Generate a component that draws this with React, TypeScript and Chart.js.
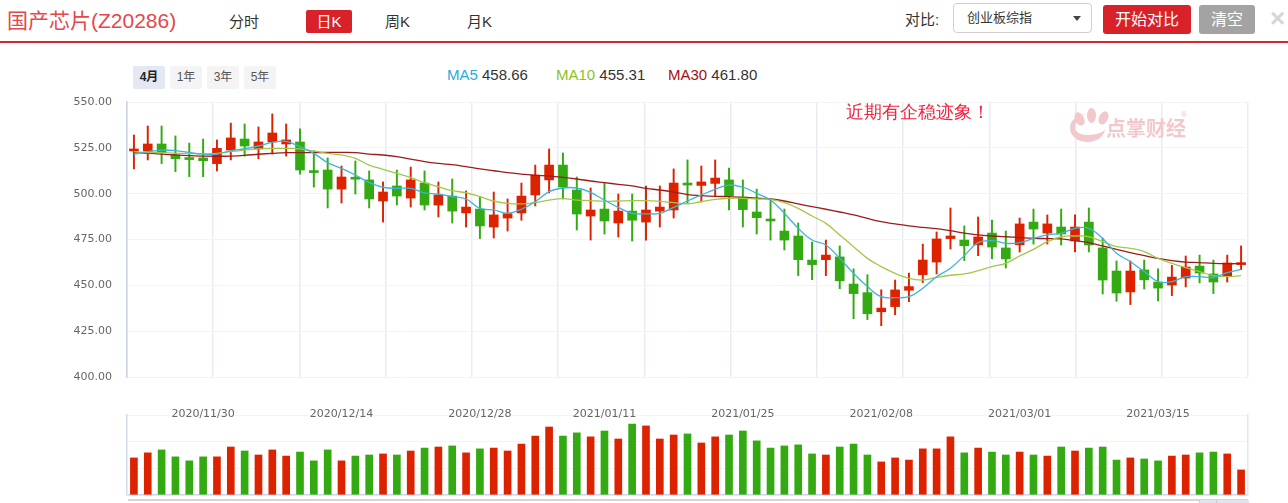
import React, { useEffect, useRef } from 'react';
import { Chart, registerables } from 'chart.js';

Chart.register(...registerables);

const dates = [
  '2020/11/23','2020/11/24','2020/11/25','2020/11/26','2020/11/27','2020/11/30',
  '2020/12/01','2020/12/02','2020/12/03','2020/12/04','2020/12/07','2020/12/08','2020/12/09','2020/12/10','2020/12/11',
  '2020/12/14','2020/12/15','2020/12/16','2020/12/17','2020/12/18','2020/12/21','2020/12/22','2020/12/23','2020/12/24','2020/12/25',
  '2020/12/28','2020/12/29','2020/12/30','2020/12/31',
  '2021/01/04','2021/01/05','2021/01/06','2021/01/07','2021/01/08','2021/01/11','2021/01/12','2021/01/13','2021/01/14','2021/01/15',
  '2021/01/18','2021/01/19','2021/01/20','2021/01/21','2021/01/22','2021/01/25','2021/01/26','2021/01/27','2021/01/28','2021/01/29',
  '2021/02/01','2021/02/02','2021/02/03','2021/02/04','2021/02/05','2021/02/08','2021/02/09','2021/02/10','2021/02/18','2021/02/19',
  '2021/02/22','2021/02/23','2021/02/24','2021/02/25','2021/02/26',
  '2021/03/01','2021/03/02','2021/03/03','2021/03/04','2021/03/05','2021/03/08','2021/03/09','2021/03/10','2021/03/11','2021/03/12',
  '2021/03/15','2021/03/16','2021/03/17','2021/03/18','2021/03/19','2021/03/22','2021/03/23',
];

const axisDates = ['2020/11/30','2020/12/14','2020/12/28','2021/01/11','2021/01/25','2021/02/08','2021/03/01','2021/03/15'];

const openP = [
  523.3,523.3,527.1,521.1,519.5,519.5,516.4,523.8,529.8,524.4,
  528.2,527.1,528.2,512.4,512.9,502.5,508.3,507.5,496.0,504.2,
  497.6,505.8,493.8,498.7,489.5,491.6,481.8,486.7,489.5,499.3,
  507.5,515.6,502.0,487.8,491.6,484.0,490.5,484.5,490.5,491.1,
  505.2,504.5,505.6,507.5,498.2,490.0,485.5,479.6,476.9,463.8,
  464.0,465.5,450.7,446.0,435.6,438.4,447.3,455.8,462.7,475.5,
  474.7,472.1,478.5,470.4,472.1,484.5,478.5,481.8,474.2,484.5,
  470.4,457.8,446.4,458.4,451.8,450.2,454.0,460.5,456.2,455.1,461.3,
];
const highP = [
  532.0,536.9,536.9,531.5,527.6,529.8,529.3,538.5,538.0,536.4,
  543.5,538.0,535.3,523.3,519.5,515.1,517.8,512.4,506.4,512.9,
  514.5,512.4,506.4,508.0,501.5,498.2,500.9,497.1,505.8,515.6,
  524.4,522.2,509.1,503.1,505.8,499.8,499.8,504.2,504.2,513.5,
  518.4,515.1,518.4,514.0,507.5,502.5,496.5,491.6,484.0,473.6,
  474.7,471.5,459.0,455.8,447.6,452.9,456.7,472.5,479.1,492.2,
  482.4,487.3,485.6,479.6,486.7,491.6,488.4,491.6,488.4,492.2,
  475.8,463.3,463.3,463.8,459.0,460.9,466.0,466.5,463.8,466.5,471.5,
];
const lowP = [
  513.5,518.4,516.4,512.0,509.3,509.3,512.4,518.4,520.5,519.0,
  521.6,520.5,510.7,503.6,492.2,494.9,499.8,492.2,484.5,493.8,
  492.7,491.1,487.3,484.0,481.8,475.5,475.8,479.6,485.5,493.3,
  500.4,497.1,480.2,474.7,478.0,476.4,474.2,474.7,481.8,486.7,
  494.7,495.5,498.4,491.1,481.8,478.0,474.7,469.3,455.3,453.1,
  455.3,448.2,431.8,431.3,428.0,434.0,441.1,451.5,456.2,469.8,
  463.5,466.2,464.5,459.5,468.2,472.5,472.5,472.0,468.2,468.2,
  445.3,441.3,439.5,448.0,441.5,444.4,449.1,451.3,445.5,451.8,458.5,
];
const closeP = [
  523.7,527.1,522.4,519.1,518.6,518.0,524.7,530.4,526.0,528.2,
  533.1,529.3,512.9,511.5,502.5,509.1,507.9,497.1,500.9,498.7,
  507.5,493.8,499.3,490.5,492.7,482.4,488.4,489.1,498.7,510.2,
  515.6,503.6,488.9,491.1,485.1,490.5,485.5,491.1,492.7,505.8,
  504.7,506.4,508.5,498.9,491.3,486.9,485.1,474.7,464.0,461.3,
  466.5,452.5,445.5,434.5,437.6,447.5,449.3,463.8,475.3,476.9,
  471.6,476.4,470.9,464.4,483.5,480.7,483.5,478.0,481.8,472.0,
  452.9,445.8,457.8,453.0,448.5,454.5,460.0,456.7,451.8,462.2,462.1,
];

const ma5 = [
  521.5,522.9,523.8,523.5,522.5,521.6,521.6,523.5,524.5,526.0,
  528.0,528.5,525.6,522.0,516.9,513.8,510.2,506.0,503.5,502.9,
  502.9,500.4,499.8,498.4,497.1,492.0,491.1,489.3,491.5,495.6,
  501.1,503.1,503.1,500.7,496.5,492.5,489.3,489.0,489.3,492.5,
  496.0,499.3,502.4,504.7,503.5,500.2,496.5,489.3,481.1,474.7,
  472.0,464.7,456.5,449.3,443.8,443.3,443.8,448.4,454.7,459.3,
  466.2,473.3,474.4,472.9,473.3,475.6,477.5,478.4,481.1,481.1,
  475.6,467.5,462.9,457.5,452.0,452.0,454.7,454.7,454.4,456.9,458.66,
];
const ma10 = [
  522.9,522.4,522.4,522.0,522.0,521.6,522.0,522.9,523.8,524.4,
  524.7,524.7,524.4,523.3,522.0,521.1,519.3,515.6,513.3,511.1,
  508.8,506.0,503.8,501.6,500.5,498.4,496.0,494.7,494.4,495.1,
  496.5,497.3,496.5,496.2,495.8,496.0,496.2,496.2,495.8,495.1,
  494.5,495.6,496.9,497.5,497.5,497.1,496.9,495.1,492.0,487.8,
  483.8,477.5,471.1,464.7,460.2,456.5,453.8,452.9,454.4,455.5,
  456.2,458.0,460.2,462.0,466.0,469.6,473.8,476.5,476.9,476.5,
  473.8,471.1,470.2,468.4,464.7,462.0,459.6,457.5,455.3,454.7,455.31,
];
const ma30 = [
  522.4,522.0,521.6,521.1,520.7,520.5,520.4,520.5,520.9,521.5,
  522.0,522.4,522.4,522.4,522.5,522.5,522.4,521.6,521.1,520.2,
  518.9,517.5,516.5,515.8,514.7,513.5,512.5,511.5,510.7,510.0,
  509.6,508.9,508.0,506.9,506.0,505.1,504.2,502.9,502.0,500.9,
  499.5,498.9,498.5,498.4,498.0,497.6,497.1,496.0,494.4,492.9,
  491.5,490.0,488.4,486.5,484.7,483.5,482.4,481.6,480.9,479.8,
  478.5,477.5,476.9,476.5,476.0,475.6,475.5,475.3,474.4,473.3,
  471.5,469.6,467.8,466.2,464.7,463.5,462.7,462.4,462.0,461.8,461.80,
];

const volume = [
  139,158,169,143,128,143,143,180,165,150,
  169,146,161,128,169,128,146,150,154,150,
  165,176,180,184,158,173,176,165,191,221,
  255,221,233,218,240,210,266,259,210,225,
  229,195,218,225,240,203,176,184,188,154,
  150,180,191,150,124,139,131,173,173,218,
  158,176,161,150,161,150,146,180,165,176,
  180,131,139,135,128,146,150,158,161,154,94,
];

const UP = '#dd2200';
const DOWN = '#33aa11';
const C_MA5 = '#3cb4dd';
const C_MA10 = '#a2c846';
const C_MA30 = '#9c1c1c';

const maSeries = [
  { name: 'MA5', data: ma5, color: C_MA5, label: '#2aa9dc' },
  { name: 'MA10', data: ma10, color: C_MA10, label: '#8cc21d' },
  { name: 'MA30', data: ma30, color: C_MA30, label: '#a50f0f' },
];

const rangeTabs = ['4月', '1年', '3年', '5年'];
const periodTabs = ['分时', '日K', '周K', '月K'];

const AXIS_FONT = { family: "'DejaVu Sans', sans-serif", size: 11 };

const noPad = (s: any) => {
  s.paddingTop = 0;
  s.paddingBottom = 0;
  s.paddingLeft = 0;
  s.paddingRight = 0;
};

export default function App() {
  const mainRef = useRef<HTMLCanvasElement>(null);
  const volRef = useRef<HTMLCanvasElement>(null);

  useEffect(() => {
    const colors = closeP.map((c, i) => (c >= openP[i] ? UP : DOWN));

    const main = new Chart(mainRef.current as HTMLCanvasElement, {
      type: 'bar',
      data: {
        labels: dates,
        datasets: [
          ...maSeries.map((m) => ({
            type: 'line' as const,
            label: m.name,
            data: m.data,
            borderColor: m.color,
            borderWidth: 1.3,
            pointRadius: 0,
            tension: 0.4,
            order: 0,
            xAxisID: 'x',
            yAxisID: 'y',
          })),
          {
            type: 'bar' as const,
            label: 'body',
            data: openP.map((o, i) => [o, closeP[i]]),
            backgroundColor: colors,
            barThickness: 9,
            minBarLength: 2,
            grouped: false,
            order: 1,
            xAxisID: 'x',
            yAxisID: 'y',
          },
          {
            type: 'bar' as const,
            label: 'wick',
            data: lowP.map((l, i) => [l, highP[i]]),
            backgroundColor: colors,
            barThickness: 1.3,
            grouped: false,
            order: 2,
            xAxisID: 'x',
            yAxisID: 'y',
          },
        ],
      } as any,
      options: {
        animation: false,
        responsive: false,
        maintainAspectRatio: false,
        layout: { padding: { left: 0, right: 12, top: 10, bottom: 0 } },
        plugins: { legend: { display: false }, tooltip: { enabled: false } },
        scales: {
          x: {
            type: 'category',
            position: 'bottom',
            offset: true,
            grid: { display: false, drawTicks: false },
            border: { display: false },
            ticks: {
              autoSkip: false,
              maxRotation: 0,
              padding: 31,
              color: '#666',
              font: AXIS_FONT,
              callback: (_v: any, index: number) =>
                axisDates.includes(dates[index]) ? dates[index] : null,
            },
            afterFit: (s: any) => {
              s.height = 53;
              noPad(s);
            },
          },
          x2: {
            type: 'linear',
            position: 'bottom',
            min: 0,
            max: 12,
            ticks: { display: false, stepSize: 1, maxTicksLimit: 20 },
            grid: { color: '#e7ecf3', lineWidth: 1.5, drawTicks: false },
            border: { display: false },
            afterFit: (s: any) => {
              s.height = 0;
              noPad(s);
            },
          },
          y: {
            min: 400,
            max: 550,
            ticks: {
              stepSize: 25,
              padding: 15,
              color: '#666',
              font: AXIS_FONT,
              callback: (v: any) => Number(v).toFixed(2),
            },
            grid: { color: '#f4f4f4', drawTicks: false },
            border: { color: '#c9d4e6', width: 1.5 },
            afterFit: (s: any) => {
              s.width = 127;
              noPad(s);
            },
          },
        },
      } as any,
    });

    const vol = new Chart(volRef.current as HTMLCanvasElement, {
      type: 'bar',
      data: {
        labels: dates,
        datasets: [
          {
            label: 'volume',
            data: volume,
            backgroundColor: colors,
            barThickness: 7,
          },
        ],
      },
      options: {
        animation: false,
        responsive: false,
        maintainAspectRatio: false,
        layout: { padding: { left: 0, right: 12, top: 15, bottom: 5 } },
        plugins: { legend: { display: false }, tooltip: { enabled: false } },
        scales: {
          x: { type: 'category', offset: true, display: false },
          y: {
            min: 0,
            max: 300,
            ticks: { display: false, stepSize: 100 },
            grid: {
              drawTicks: false,
              color: (ctx: any) => (ctx.tick && ctx.tick.value === 0 ? '#cbd4e2' : '#f4f4f4'),
              lineWidth: (ctx: any) => (ctx.tick && ctx.tick.value === 0 ? 1.5 : 1),
            },
            border: { color: '#d3dbe8', width: 1.5 },
            afterFit: (s: any) => {
              s.width = 127;
              noPad(s);
            },
          },
          y2: {
            position: 'right',
            min: 0,
            max: 300,
            ticks: { display: false },
            grid: { display: false, drawTicks: false },
            border: { color: '#e3e8f0', width: 1.5 },
            afterFit: (s: any) => {
              s.width = 0;
              noPad(s);
            },
          },
        },
      } as any,
    });

    return () => {
      main.destroy();
      vol.destroy();
    };
  }, []);

  const font = "'Liberation Sans', 'Noto Sans CJK SC', sans-serif";
  const abs = (left: number, top: number, extra: any = {}) => ({
    position: 'absolute' as const,
    left,
    top,
    whiteSpace: 'nowrap' as const,
    ...extra,
  });
  const periodLeft = [229, 306, 385, 467];
  const rangeLeft = [133, 170, 207, 244];
  const legendLeft = [447, 556, 668];
  const wm = '#f1c9cd';

  return (
    <div
      style={{
        position: 'absolute',
        left: 0,
        top: 0,
        width: 1288,
        height: 503,
        background: '#fff',
        overflow: 'hidden',
        fontFamily: font,
      }}
    >
      {/* header */}
      <div style={abs(7, 6, { fontSize: 21, color: '#e5474b', lineHeight: '30px' })}>国产芯片(Z20286)</div>
      {periodTabs.map((t, i) =>
        i === 1 ? (
          <div
            key={t}
            style={abs(periodLeft[i], 10, {
              width: 46,
              height: 23,
              lineHeight: '23px',
              textAlign: 'center',
              background: '#d9212a',
              color: '#fff',
              fontSize: 15,
              borderRadius: 2,
            })}
          >
            {t}
          </div>
        ) : (
          <div key={t} style={abs(periodLeft[i], 10, { fontSize: 15, color: '#333', lineHeight: '23px' })}>
            {t}
          </div>
        )
      )}
      <div style={abs(905, 8, { fontSize: 15, color: '#333', lineHeight: '24px' })}>对比:</div>
      <div
        style={abs(953, 3, {
          width: 139,
          height: 30,
          border: '1px solid #cfcfcf',
          borderRadius: 4,
          boxSizing: 'border-box',
        })}
      >
        <span style={{ position: 'absolute', left: 13, top: 0, lineHeight: '28px', fontSize: 13, color: '#333' }}>
          创业板综指
        </span>
        <span
          style={{
            position: 'absolute',
            left: 119,
            top: 12,
            width: 0,
            height: 0,
            borderLeft: '4px solid transparent',
            borderRight: '4px solid transparent',
            borderTop: '5px solid #444',
          }}
        />
      </div>
      <div
        style={abs(1103, 5, {
          width: 88,
          height: 29,
          lineHeight: '29px',
          textAlign: 'center',
          background: '#d9212a',
          color: '#fff',
          fontSize: 16,
          borderRadius: 3,
        })}
      >
        开始对比
      </div>
      <div
        style={abs(1199, 5, {
          width: 56,
          height: 29,
          lineHeight: '29px',
          textAlign: 'center',
          background: '#a3a3a3',
          color: '#fff',
          fontSize: 16,
          borderRadius: 3,
        })}
      >
        清空
      </div>
      <div style={abs(1270, 3, { fontSize: 26, fontWeight: 'bold', color: '#d6d6d6', lineHeight: '30px' })}>×</div>
      <div style={abs(0, 41, { width: 1288, height: 2, background: '#d9262d' })} />

      {/* range tabs */}
      {rangeTabs.map((t, i) => (
        <div
          key={t}
          style={abs(rangeLeft[i], 66, {
            width: 32,
            height: 23,
            lineHeight: '23px',
            textAlign: 'center',
            fontSize: 12,
            color: i === 0 ? '#222' : '#555',
            fontWeight: i === 0 ? 'bold' : 'normal',
            background: i === 0 ? '#e3e8f3' : '#f4f4f4',
            borderRadius: 2,
          })}
        >
          {t}
        </div>
      ))}

      {/* MA legend */}
      {maSeries.map((m, i) => (
        <div key={m.name} style={abs(legendLeft[i], 65, { fontSize: 15, lineHeight: '20px', color: '#333' })}>
          <span style={{ color: m.label }}>{m.name}</span> {m.data[m.data.length - 1].toFixed(2)}
        </div>
      ))}

      <canvas
        ref={volRef}
        width={1260}
        height={100}
        style={{ position: 'absolute', left: 0, top: 400, width: 1260, height: 100 }}
      />
      <canvas
        ref={mainRef}
        width={1260}
        height={338}
        style={{ position: 'absolute', left: 0, top: 92, width: 1260, height: 338 }}
      />

      {/* annotation */}
      <div
        style={abs(846, 101, {
          fontSize: 18,
          color: '#f2233f',
          fontFamily: 'serif',
          fontWeight: 300,
          lineHeight: '22px',
        })}
      >
        近期有企稳迹象！
      </div>

      {/* watermark */}
      <div style={abs(1075, 112, { width: 9, height: 14, borderRadius: '50%', background: wm, transform: 'rotate(-25deg)' })} />
      <div style={abs(1087, 108, { width: 9, height: 15, borderRadius: '50%', background: wm })} />
      <div style={abs(1099, 111, { width: 9, height: 14, borderRadius: '50%', background: wm, transform: 'rotate(25deg)' })} />
      <div
        style={abs(1070, 114, {
          width: 35,
          height: 28,
          borderRadius: '50%',
          borderBottom: `7px solid ${wm}`,
          borderLeft: `5px solid ${wm}`,
          boxSizing: 'border-box',
        })}
      />
      <div style={abs(1106, 117, { fontSize: 20, fontWeight: 'bold', color: wm, lineHeight: '24px' })}>点掌财经</div>
      <div style={abs(1181, 110, { fontSize: 8, color: wm })}>®</div>

      {/* bottom slider */}
      <div style={abs(128, 499, { width: 1120, height: 2, background: '#d6d6d6' })} />
      <div style={abs(1199, 500, { width: 49, height: 4, background: '#dfe4ee', borderLeft: '1px solid #c6cedb' })} />
      <div style={abs(1216, 500, { width: 1, height: 4, background: '#c6cedb' })} />
    </div>
  );
}
